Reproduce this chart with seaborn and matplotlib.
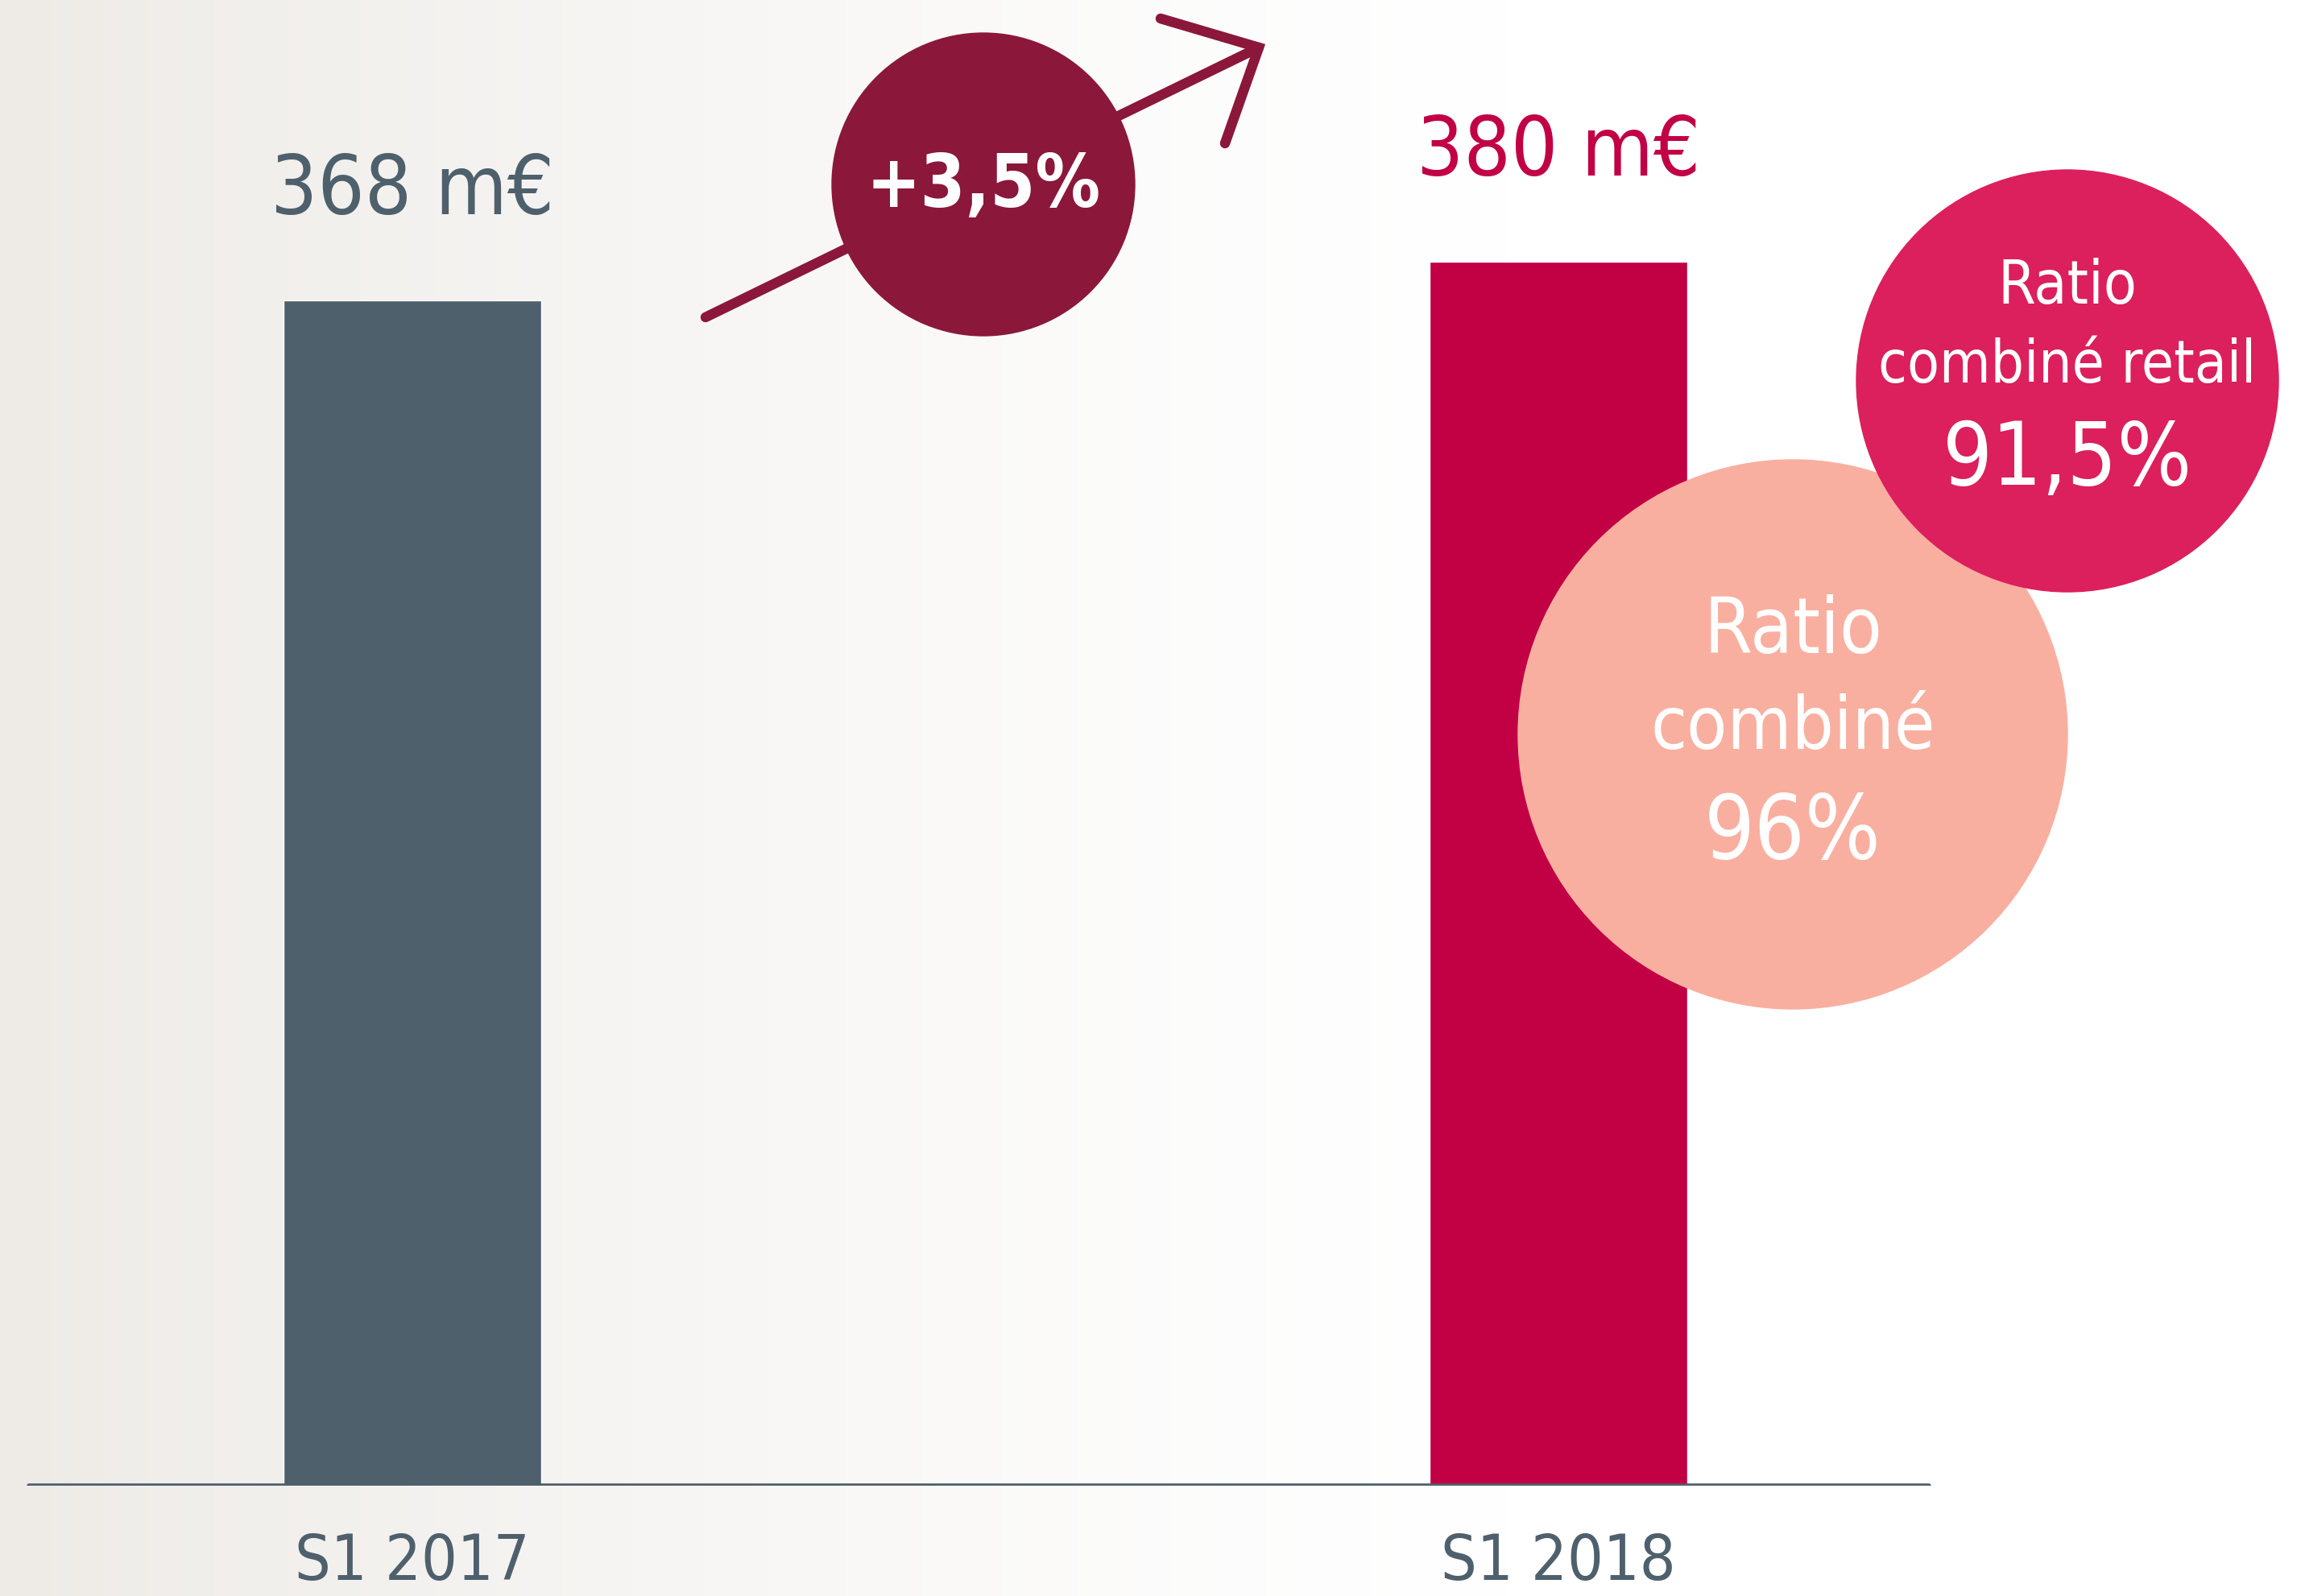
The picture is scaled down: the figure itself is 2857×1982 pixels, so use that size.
import numpy as np
import matplotlib
matplotlib.use("Agg")
import matplotlib.pyplot as plt
from matplotlib import font_manager
from matplotlib.patches import Circle
from matplotlib.colors import LinearSegmentedColormap
import seaborn as sns
import pandas as pd

# ---- data ----
categories = ["S1 2017", "S1 2018"]
values = [368, 380]
value_labels = ["368 m€", "380 m€"]
growth_label = "+3,5%"
retail_title = ["Ratio", "combiné retail"]
retail_value = "91,5%"
combined_title = ["Ratio", "combiné"]
combined_value = "96%"

GRAY = "#4f606d"
RED = "#c20044"
DARK = "#8b173b"
PINK = "#dc1f5d"
SALMON = "#f9afa0"

sns.set_theme(style="white")
entries = font_manager.fontManager.ttflist
STRETCH = "normal"
if any(f.name == "DejaVu Sans" and str(f.stretch) in ("condensed", "semi-condensed")
       for f in entries):
    FONT = "DejaVu Sans"
    STRETCH = "condensed"
else:
    FONT = "Liberation Sans"
plt.rcParams["font.family"] = [FONT, "DejaVu Sans"]
plt.rcParams["font.stretch"] = STRETCH

W, H = 2857, 1983
fig = plt.figure(figsize=(W / 100, H / 100), dpi=100)
fig.patch.set_facecolor("white")

# background wash (faded photo on the left)
bg = fig.add_axes([0, 0, 1, 1], zorder=0)
grad = np.linspace(1, 0, 400) ** 1.3
bg_cmap = LinearSegmentedColormap.from_list("bg", ["#ffffff", "#eeebe7"])
bg.imshow(grad[np.newaxis, :], aspect="auto", cmap=bg_cmap, extent=[0, 1900, H, 0], vmin=0, vmax=1)
bg.set_xlim(0, W)
bg.set_ylim(H, 0)
bg.axis("off")

# main bar axes
ax = fig.add_axes([0, 137 / H, 1, 1846 / H], zorder=1)
ax.patch.set_alpha(0)
df = pd.DataFrame({"cat": categories, "val": values})
sns.barplot(data=df, x="cat", y="val", hue="cat", palette=[GRAY, RED], width=0.225,
            saturation=1, legend=False, ax=ax)
ax.set_xlim(-0.3598, 1.648)
ax.set_ylim(0, 461.5)
ax.set_xlabel("")
ax.set_ylabel("")
ax.set_yticks([])
for s in ax.spines.values():
    s.set_visible(False)
ax.tick_params(axis="x", length=0, pad=68, labelsize=76, labelcolor=GRAY)
for lab in ax.get_xticklabels():
    lab.set_va("center")
ax.axhline(0, xmin=36 / W, xmax=2395 / W, color=GRAY, lw=4, zorder=5)

fitted = []  # (text, target width px, max size)
for i, (v, lab) in enumerate(zip(values, value_labels)):
    t = ax.text(i, v + 34, lab, ha="center", va="center", fontsize=85,
                color=[GRAY, RED][i])
    fitted.append((t, 352, 85))

# overlay in pixel coordinates for annotation bubbles
ov = fig.add_axes([0, 0, 1, 1], zorder=2)
ov.patch.set_alpha(0)
ov.set_xlim(0, W)
ov.set_ylim(H, 0)
ov.axis("off")

# growth arrow
ov.plot([876, 1563], [395, 60], color=DARK, lw=9, solid_capstyle="round", zorder=1)
ov.plot([1441, 1563, 1521], [24, 60, 179], color=DARK, lw=9,
        solid_capstyle="round", solid_joinstyle="miter", zorder=1)
ov.add_patch(Circle((1221, 230), 188, color=DARK, zorder=2))
t = ov.text(1221, 232, growth_label, ha="center", va="center", fontsize=72,
            color="white", fontweight="bold", zorder=3)
fitted.append((t, 291, 72))

# combined ratio bubble (behind retail)
ov.add_patch(Circle((2226, 913), 341, color=SALMON, zorder=2))
for txt, y, w, s in [(combined_title[0], 785, 222, 80), (combined_title[1], 905, 353, 80),
                     (combined_value, 1035, 220, 90)]:
    t = ov.text(2226, y, txt, ha="center", va="center", fontsize=s, color="white", zorder=3)
    fitted.append((t, w, s))

# retail ratio bubble
ov.add_patch(Circle((2567, 474), 262, color=PINK, zorder=4))
for txt, y, w, s in [(retail_title[0], 357, 173, 62), (retail_title[1], 455, 470, 62),
                     (retail_value, 572, 310, 94)]:
    t = ov.text(2567, y, txt, ha="center", va="center", fontsize=s, color="white", zorder=5)
    fitted.append((t, w, s))

# fit text sizes to the reference widths
fig.canvas.draw()
renderer = fig.canvas.get_renderer()
for t, w, s in fitted:
    cur = t.get_window_extent(renderer).width
    t.set_fontsize(min(s, t.get_fontsize() * w / cur))
tick_size = 76
for lab in ax.get_xticklabels():
    cur = lab.get_window_extent(renderer).width
    tick_size = min(tick_size, lab.get_fontsize() * 292 / cur)
ax.tick_params(axis="x", labelsize=tick_size)

fig.savefig("out.png", dpi=100)
